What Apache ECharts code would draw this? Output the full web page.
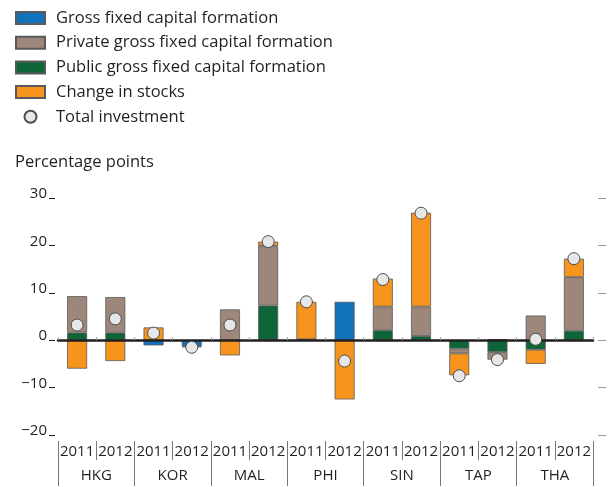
<!DOCTYPE html>
<html>
<head>
<meta charset="utf-8">
<script src="https://cdn.jsdelivr.net/npm/echarts@6/dist/echarts.min.js"></script>
<style>
html,body{margin:0;padding:0;background:#fff;}
#chart{width:611px;height:487px;}
</style>
</head>
<body>
<div id="chart"></div>
<script>
var years = ['2011','2012','2011','2012','2011','2012','2011','2012','2011','2012','2011','2012','2011','2012'];
var countries = ['HKG','KOR','MAL','PHI','SIN','TAP','THA'];
var yTicks = [-20,-10,0,10,20,30];

var grossFixed   = [null, null, -1.1, -1.3, null, null, null, 8.1, null, null, null, null, null, null];
var publicGfcf   = [1.6, 1.6, null, null, 0, 7.3, 0.2, null, 2.1, 0.9, -1.8, -2.5, -2.0, 2.0];
var privateGfcf  = [7.7, 7.5, null, null, 6.5, 12.6, null, null, 5.0, 6.2, -1.0, -1.6, 5.2, 11.3];
var stocks       = [-6.0, -4.4, 2.7, -0.2, -3.2, 0.9, 7.9, -12.5, 5.9, 19.8, -4.6, 0.2, -3.0, 3.9];
var totalInv     = [3.2, 4.5, 1.5, -1.5, 3.2, 20.8, 8.1, -4.4, 12.8, 26.8, -7.5, -4.1, 0.2, 17.2];

var FONT = 'Open Sans';
var chart = echarts.init(document.getElementById('chart'), null, {renderer:'canvas'});
var cats = years.map(function(y,i){return i+'';});
var barBorder = {borderColor:'#5a5a5a', borderWidth:0.8};
function barSeries(name, data, color){
  return {name:name, type:'bar', stack:'s', data:data, barWidth:20, xAxisIndex:0,
    itemStyle:Object.assign({color:color}, barBorder)};
}
chart.setOption({
  animation:false,
  textStyle:{fontFamily:FONT},
  title:{text:'Percentage points', left:15, top:154, padding:0, textStyle:{fontFamily:FONT, fontSize:16.5, fontWeight:'normal', color:'#231f20'}},
  legend:{orient:'vertical', left:15, top:9.5, padding:0, itemWidth:29, itemHeight:12, itemGap:7.7,
    textStyle:{fontFamily:FONT, fontSize:16.5, color:'#231f20', lineHeight:17, padding:[0,0,0,6]},
    data:[
      {name:'Gross fixed capital formation', icon:'rect'},
      {name:'Private gross fixed capital formation', icon:'rect'},
      {name:'Public gross fixed capital formation', icon:'rect'},
      {name:'Change in stocks', icon:'rect'},
      {name:'Total investment', icon:'circle'}
    ]},
  grid:{left:58, right:18, top:198, bottom:52, containLabel:false},
  xAxis:[
    {type:'category', data:cats, position:'bottom', axisLine:{onZero:true, lineStyle:{color:'#231f20', width:2.5}},
     axisTick:{show:true, inside:true, length:3, interval:0, lineStyle:{color:'#999'}}, axisLabel:{show:false}, splitLine:{show:false}, z:5},
    {type:'category', data:years, position:'bottom', offset:6, axisLine:{show:false, onZero:false},
     axisTick:{show:true, length:19, interval:0, lineStyle:{color:'#777'}},
     axisLabel:{interval:0, margin:3, fontFamily:FONT, fontSize:15, color:'#231f20'}},
    {type:'category', data:countries, position:'bottom', offset:6, axisLine:{show:false, onZero:false},
     axisTick:{show:true, length:45, interval:0, lineStyle:{color:'#777'}},
     axisLabel:{interval:0, margin:27, fontFamily:FONT, fontSize:15, color:'#231f20'}}
  ],
  yAxis:[
    {type:'value', min:yTicks[0], max:yTicks[yTicks.length-1], interval:10, position:'left', offset:3,
     axisLine:{show:false}, axisTick:{show:true, length:6, lineStyle:{color:'#231f20'}},
     splitLine:{show:false},
     axisLabel:{margin:8, fontFamily:FONT, fontSize:15, color:'#231f20', verticalAlign:'bottom', lineHeight:8,
       formatter:function(v){return v<0 ? '\u2212'+Math.abs(v) : ''+v;}}},
    {type:'value', min:yTicks[0], max:yTicks[yTicks.length-1], interval:10, position:'right', offset:5,
     axisLine:{show:false}, axisTick:{show:true, length:8, lineStyle:{color:'#999'}},
     splitLine:{show:false}, axisLabel:{show:false}}
  ],
  series:[
    barSeries('Gross fixed capital formation', grossFixed, '#1272bb'),
    barSeries('Public gross fixed capital formation', publicGfcf, '#0e6638'),
    barSeries('Private gross fixed capital formation', privateGfcf, '#9c877a'),
    barSeries('Change in stocks', stocks, '#f7941d'),
    {name:'Total investment', type:'scatter', data:totalInv, xAxisIndex:0, symbol:'circle', symbolSize:12, z:10,
     itemStyle:{color:'#e6e7e8', borderColor:'#4d4d4d', borderWidth:1, opacity:1}}
  ]
});
</script>
</body>
</html>
